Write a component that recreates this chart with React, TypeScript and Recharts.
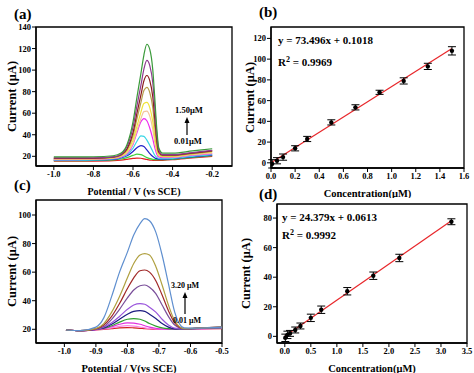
import React from 'react';
import {
  LineChart, Line, ScatterChart, Scatter, ErrorBar, XAxis, YAxis,
  ReferenceArea, ReferenceLine,
} from 'recharts';

const FONT = '"Liberation Serif", "Times New Roman", serif';

// ---- (a) DPV curves, potential in V vs SCE, current in uA ----
const potA = [-1.0, -0.9, -0.8, -0.7, -0.66, -0.63, -0.6, -0.58, -0.56, -0.545, -0.53, -0.515, -0.5, -0.49, -0.48, -0.47, -0.45, -0.4, -0.3, -0.2];
const a150 = [19.5, 19.5, 19.6, 20.5, 23, 31, 52, 75, 97, 114, 124, 119, 100, 74, 46, 28, 23, 23, 25, 27];
const a130 = [18.5, 18.5, 18.6, 19.5, 22, 29, 47, 67, 86, 101, 109, 104, 88, 65, 41, 26, 21.5, 21.5, 23.5, 25.5];
const a110 = [18, 18, 18.1, 19.2, 21.5, 27, 42, 60, 77, 90, 95, 90, 75, 55, 35, 24, 21, 21, 23, 25];
const a090 = [18, 18, 18.1, 19, 21, 26, 39, 55, 70, 81, 84, 79, 65, 47, 31, 23, 20.5, 20.5, 22.5, 24.5];
const a070 = [17.5, 17.5, 17.6, 18.5, 20.5, 24.5, 35, 48, 61, 69, 70, 65, 52, 38, 27, 21.5, 20, 20, 22, 24];
const a050 = [17.5, 17.5, 17.6, 18.3, 20, 23.5, 32, 44, 55, 61.5, 62, 57, 45, 33, 24.5, 20.5, 19.5, 19.5, 21.5, 23];
const a030 = [17, 17, 17.1, 18, 19.5, 22.5, 31, 42, 52, 55, 53, 46, 36, 28, 22, 19.5, 18.8, 19, 21, 22.5];
const a020 = [16.5, 16.5, 16.6, 17.5, 19, 21.5, 27.5, 34, 39, 38.5, 35, 30, 24.5, 21, 19, 18, 17.8, 18, 20, 21.5];
const a010 = [16.5, 16.5, 16.6, 17.2, 18.5, 20.5, 24.5, 28, 30, 29, 26, 22.5, 19.8, 18.5, 17.8, 17.4, 17.3, 17.8, 19.5, 21];
const a005 = [16, 16, 16.1, 16.7, 17.5, 18.8, 20.8, 22, 21.6, 20.3, 18.8, 17.8, 17.2, 17, 16.9, 16.8, 16.8, 17.3, 19, 20.5];
const a001 = [15.5, 15.5, 15.6, 16, 16.5, 17.2, 18, 18.4, 18.2, 17.6, 17, 16.5, 16.3, 16.2, 16.2, 16.2, 16.3, 16.8, 18.5, 20];

const curvesA = [
  { y: a001, color: '#e02020' },
  { y: a005, color: '#3fd03f' },
  { y: a010, color: '#2222c8' },
  { y: a020, color: '#3ad6e6' },
  { y: a030, color: '#ee2cee' },
  { y: a050, color: '#f4c49c' },
  { y: a070, color: '#f0e43a' },
  { y: a090, color: '#b59e4a' },
  { y: a110, color: '#8b1c1c' },
  { y: a130, color: '#8e3a8e' },
  { y: a150, color: '#3a9a3a' },
];

// ---- (c) DPV curves ----
const potC = [-0.995, -0.95, -0.9, -0.875, -0.85, -0.825, -0.8, -0.78, -0.76, -0.745, -0.73, -0.71, -0.69, -0.67, -0.65, -0.62, -0.58, -0.5];
const c320 = [19.5, 19, 21.5, 28, 43, 60, 74, 86, 94, 97.5, 96, 88, 72, 52, 32, 21, 20.8, 21.5];
const c220 = [19.5, 19, 20.5, 24, 32, 43, 56, 66, 72, 73, 72, 64, 51, 37, 26, 20.5, 20.8, 21.5];
const c170 = [19.5, 19, 20.3, 23, 29, 38, 48.5, 56, 61, 61.5, 60, 54, 44, 33, 24.5, 20.5, 20.8, 21.5];
const c120 = [19.5, 19, 20.2, 22, 27, 34, 42, 47.5, 50.5, 51, 49.5, 45, 37, 29, 23, 20.3, 20.7, 21.3];
const c070 = [19.5, 19, 20, 21.5, 24.5, 29, 34, 37, 38, 37.5, 35.5, 32, 27, 23, 20.8, 20.2, 20.6, 21.2];
const c050 = [19.5, 19, 20, 21, 23.5, 27, 30.5, 32.5, 33, 32.5, 30.5, 27.5, 24, 21.5, 20.3, 20.2, 20.8, 21.6];
const c030 = [19.5, 19, 20, 20.8, 22.5, 25, 27, 27.5, 27, 25.8, 24, 22.2, 21, 20.4, 20.2, 20.1, 20.5, 21];
const c020 = [19.5, 19, 19.8, 20.4, 21.8, 23.5, 24.5, 24.3, 23.5, 22.5, 21.5, 20.7, 20.2, 20, 20, 20, 20.3, 20.8];
const c010 = [19.5, 19, 19.7, 20.2, 21, 22, 22.5, 22.2, 21.6, 21, 20.5, 20.1, 20, 20, 20, 20, 20.2, 20.6];
const c001 = [19.5, 19, 19.6, 20, 20.5, 21, 21.2, 21, 20.7, 20.4, 20.2, 20, 20, 20, 20, 20, 20.2, 20.5];

const curvesC = [
  { y: c001, color: '#d02020' },
  { y: c010, color: '#ff80e6' },
  { y: c020, color: '#e030e0' },
  { y: c030, color: '#30a030' },
  { y: c050, color: '#1a1a80' },
  { y: c070, color: '#9a55dc' },
  { y: c120, color: '#7a4f9a' },
  { y: c170, color: '#a02828' },
  { y: c220, color: '#b0a040' },
  { y: c320, color: '#5f8fcf' },
];

// ---- (b) calibration ----
const concB = [0.01, 0.05, 0.1, 0.2, 0.3, 0.5, 0.7, 0.9, 1.1, 1.3, 1.5];
const curB = [-1, 2, 5.5, 14, 23, 39, 53.5, 68, 79, 93, 108];
const errB = [4, 3, 3, 2.5, 2.5, 2.5, 2.5, 2, 3, 3, 4];
const fitB = [{ x: 0, y: 0.1 }, { x: 1.5, y: 110.3 }];

// ---- (d) calibration ----
const concD = [0.01, 0.05, 0.1, 0.2, 0.3, 0.5, 0.7, 1.2, 1.7, 2.2, 3.2];
const curD = [-1, 1, 2, 4.3, 7, 12.5, 18, 30.5, 41, 53, 77.5];
const errD = [2.5, 2.5, 2, 2, 2, 2.5, 2.5, 2.5, 2.5, 2.5, 2];
const fitD = [{ x: 0, y: 0.06 }, { x: 3.2, y: 78.1 }];

const ticksA = [-1.0, -0.8, -0.6, -0.4, -0.2];
const ticksAy = [20, 40, 60, 80, 100, 120, 140];
const ticksC = [-1.0, -0.9, -0.8, -0.7, -0.6, -0.5];
const ticksCy = [20, 40, 60, 80, 100];
const ticksB = [0, 0.2, 0.4, 0.6, 0.8, 1.0, 1.2, 1.4, 1.6];
const ticksBy = [0, 20, 40, 60, 80, 100, 120];
const ticksD = [0, 0.5, 1.0, 1.5, 2.0, 2.5, 3.0, 3.5];
const ticksDy = [0, 20, 40, 60, 80];

const buildRows = (pot: number[], curves: { y: number[] }[]) =>
  pot.map((v, i) => {
    const row: any = { v };
    curves.forEach((c, j) => { row['c' + j] = c.y[i]; });
    return row;
  });

const rowsA = buildRows(potA, curvesA);
const rowsC = buildRows(potC, curvesC);
const ptsB = concB.map((x, i) => ({ x, y: curB[i], err: errB[i] }));
const ptsD = concD.map((x, i) => ({ x, y: curD[i], err: errD[i] }));

const tickStyle = { fill: '#000', fontSize: 8.5, fontWeight: 'bold', fontFamily: FONT };
const axisLine = { stroke: '#000', strokeWidth: 1.3 };
const tickLine = { stroke: '#000', strokeWidth: 1 };
const titleStyle = (size: number) => ({ textAnchor: 'middle', fontFamily: FONT, fontWeight: 'bold', fontSize: size, fill: '#000' } as any);

const fix1 = (v: number) => v.toFixed(1);

const Dot = (p: any) => <circle cx={p.cx} cy={p.cy} r={2.2} fill="#000" />;

const Arrow = ({ x, y1, y2 }: { x: number; y1: number; y2: number }) => (
  <g>
    <line x1={x} y1={y1} x2={x} y2={y2 + 5} stroke="#000" strokeWidth={1.2} />
    <polygon points={`${x - 2.5},${y2 + 6} ${x + 2.5},${y2 + 6} ${x},${y2}`} fill="#000" />
  </g>
);

export default function App() {
  const bold = { fontFamily: FONT, fontWeight: 'bold', fill: '#000' } as any;
  return (
    <div style={{ position: 'absolute', left: 0, top: 0, width: 474, height: 373, background: '#fff', overflow: 'hidden' }}>
      {/* (a) */}
      <div style={{ position: 'absolute', left: 0, top: 0 }}>
        <LineChart width={240} height={198} data={rowsA} margin={{ top: 27, right: 8, left: 0, bottom: 0 }}>
          <ReferenceArea x1={-1.09} x2={-0.1} y1={11} y2={140} fill="none" stroke="#000" strokeWidth={1.3} />
          <XAxis dataKey="v" type="number" domain={[-1.09, -0.1]} ticks={ticksA} tickFormatter={fix1}
            allowDataOverflow height={32} tick={tickStyle} axisLine={axisLine} tickLine={tickLine} tickSize={4} tickMargin={1}
            label={{ value: 'Potential / V (vs SCE)', position: 'insideBottom', offset: 3, style: titleStyle(10) }} />
          <YAxis type="number" domain={[11, 140]} ticks={ticksAy} allowDataOverflow width={36}
            tick={tickStyle} axisLine={axisLine} tickLine={tickLine} tickSize={4} tickMargin={1}
            label={{ value: 'Current (μA)', angle: -90, position: 'insideLeft', offset: 12, style: titleStyle(12.5) }} />
          {curvesA.map((c, j) => (
            <Line key={j} dataKey={'c' + j} type="monotone" stroke={c.color} strokeWidth={1.2} dot={false} isAnimationActive={false} />
          ))}
        </LineChart>
      </div>

      {/* (b) */}
      <div style={{ position: 'absolute', left: 237, top: 0 }}>
        <ScatterChart width={237} height={198} margin={{ top: 27, right: 10, left: 0, bottom: 0 }}>
          <ReferenceArea x1={0} x2={1.6} y1={-5} y2={131} fill="none" stroke="#000" strokeWidth={1.3} />
          <XAxis dataKey="x" type="number" domain={[0, 1.6]} ticks={ticksB} tickFormatter={fix1}
            allowDataOverflow height={30} tick={tickStyle} axisLine={axisLine} tickLine={tickLine} tickSize={4} tickMargin={1}
            label={{ value: 'Concentration(μM)', position: 'insideBottom', offset: 1, style: titleStyle(10.5) }} />
          <YAxis dataKey="y" type="number" domain={[-5, 131]} ticks={ticksBy} allowDataOverflow width={34}
            tick={tickStyle} axisLine={axisLine} tickLine={tickLine} tickSize={4} tickMargin={1}
            label={{ value: 'Current (μA)', angle: -90, position: 'insideLeft', offset: 13, style: titleStyle(12.5) }} />
          <ReferenceLine segment={fitB} stroke="#e8262a" strokeWidth={1.2} />
          <Scatter data={ptsB} shape={Dot} isAnimationActive={false}>
            <ErrorBar dataKey="err" direction="y" width={4} stroke="#000" strokeWidth={1} />
          </Scatter>
        </ScatterChart>
      </div>

      {/* (c) */}
      <div style={{ position: 'absolute', left: 0, top: 186 }}>
        <LineChart width={237} height={187} data={rowsC} margin={{ top: 14, right: 15, left: 0, bottom: 0 }}>
          <ReferenceArea x1={-1.09} x2={-0.5} y1={10.4} y2={110.5} fill="none" stroke="#000" strokeWidth={1.3} />
          <XAxis dataKey="v" type="number" domain={[-1.09, -0.5]} ticks={ticksC} tickFormatter={fix1}
            allowDataOverflow height={30} tick={tickStyle} axisLine={axisLine} tickLine={tickLine} tickSize={4} tickMargin={1}
            label={{ value: 'Potential / V(vs SCE)', position: 'insideBottom', offset: 1, style: titleStyle(10.5) }} />
          <YAxis type="number" domain={[10.4, 110.5]} ticks={ticksCy} allowDataOverflow width={36}
            tick={tickStyle} axisLine={axisLine} tickLine={tickLine} tickSize={4} tickMargin={1}
            label={{ value: 'Current (μA)', angle: -90, position: 'insideLeft', offset: 12, style: titleStyle(12.5) }} />
          {curvesC.map((c, j) => (
            <Line key={j} dataKey={'c' + j} type="monotone" stroke={c.color} strokeWidth={1.2} dot={false} isAnimationActive={false} />
          ))}
        </LineChart>
      </div>

      {/* (d) */}
      <div style={{ position: 'absolute', left: 237, top: 186 }}>
        <ScatterChart width={237} height={187} margin={{ top: 18, right: 7, left: 0, bottom: 0 }}>
          <ReferenceArea x1={-0.15} x2={3.5} y1={-4.5} y2={89.5} fill="none" stroke="#000" strokeWidth={1.3} />
          <XAxis dataKey="x" type="number" domain={[-0.15, 3.5]} ticks={ticksD} tickFormatter={fix1}
            allowDataOverflow height={30} tick={tickStyle} axisLine={axisLine} tickLine={tickLine} tickSize={4} tickMargin={1}
            label={{ value: 'Concentration(μM)', position: 'insideBottom', offset: 1, style: titleStyle(10.5) }} />
          <YAxis dataKey="y" type="number" domain={[-4.5, 89.5]} ticks={ticksDy} allowDataOverflow width={40}
            tick={tickStyle} axisLine={axisLine} tickLine={tickLine} tickSize={4} tickMargin={1}
            label={{ value: 'Current (μA)', angle: -90, position: 'insideLeft', offset: 9, style: titleStyle(12.5) }} />
          <ReferenceLine segment={fitD} stroke="#e8262a" strokeWidth={1.2} />
          <Scatter data={ptsD} shape={Dot} isAnimationActive={false}>
            <ErrorBar dataKey="err" direction="y" width={4} stroke="#000" strokeWidth={1} />
          </Scatter>
        </ScatterChart>
      </div>

      {/* panel letters, equations, annotations */}
      <svg width={474} height={373} style={{ position: 'absolute', left: 0, top: 0, pointerEvents: 'none' }}>
        <text x={14} y={19} fontSize={15} {...bold}>(a)</text>
        <text x={259} y={17} fontSize={15} {...bold}>(b)</text>
        <text x={14} y={190} fontSize={15} {...bold}>(c)</text>
        <text x={259} y={199} fontSize={15} {...bold}>(d)</text>

        <text x={278} y={44} fontSize={11} {...bold}>y = 73.496x + 0.1018</text>
        <text x={278} y={66} fontSize={11} {...bold}>R<tspan fontSize={8} dy={-4}>2</tspan><tspan dy={4}> = 0.9969</tspan></text>
        <text x={282} y={220.5} fontSize={11} {...bold}>y = 24.379x + 0.0613</text>
        <text x={282} y={239} fontSize={11} {...bold}>R<tspan fontSize={8} dy={-4}>2</tspan><tspan dy={4}> = 0.9992</tspan></text>

        <text x={175} y={113} fontSize={8.5} {...bold}>1.50μM</text>
        <Arrow x={187} y1={135} y2={117} />
        <text x={174} y={144} fontSize={8.5} {...bold}>0.01μM</text>

        <text x={171} y={287.5} fontSize={8} {...bold}>3.20 μM</text>
        <Arrow x={185} y1={314} y2={292} />
        <text x={173} y={323} fontSize={8} {...bold}>0.01 μM</text>
      </svg>
    </div>
  );
}
